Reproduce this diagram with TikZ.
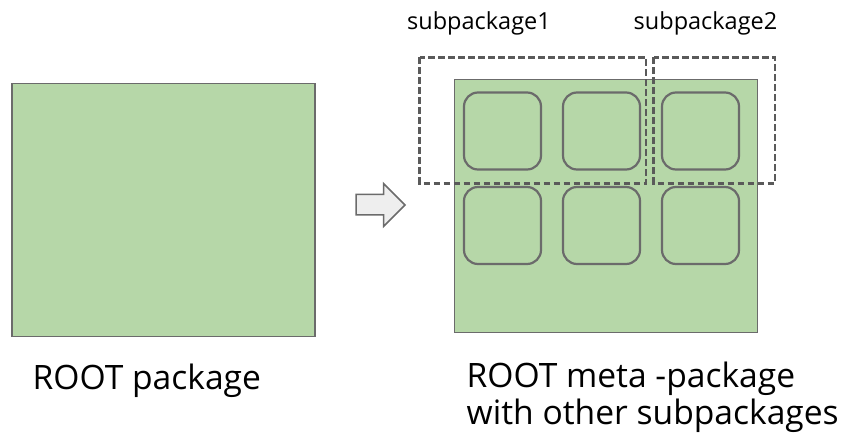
\documentclass[tikz,border=0pt]{standalone}
\usepackage{fontspec}
\setmainfont{Open Sans}
\definecolor{pkggreen}{HTML}{B6D7A8}
\definecolor{edgegray}{HTML}{6B6B6B}
\definecolor{dashgray}{HTML}{5A5A5A}
\definecolor{arrowfill}{HTML}{EEEEEE}
\begin{document}
\begin{tikzpicture}[x=1pt,y=-1pt,
  pkgbox/.style={draw=edgegray,fill=pkggreen,line width=1.8pt},
  subbox/.style={draw=edgegray,fill=pkggreen,line width=2.2pt,rounded corners=14pt},
  groupbox/.style={draw=dashgray,dashed,dash pattern=on 6.5pt off 3.5pt,line width=2.2pt},
  biglabel/.style={font=\fontsize{33.6}{37.5}\selectfont,anchor=base west,inner sep=0pt,align=left},
  smalllabel/.style={font=\fontsize{23.5}{26}\selectfont,anchor=base west,inner sep=0pt}]
\useasboundingbox (0,0) rectangle (841,435);
% left package
\draw[pkgbox] (12,83.5) rectangle (315,336.5);
% arrow
\draw[draw=edgegray,fill=arrowfill,line width=1.5pt,line join=miter]
  (356,194.5) -- (383.5,194.5) -- (383.5,183.5) -- (405,205) -- (383.5,226.5) -- (383.5,215) -- (356,215) -- cycle;
% right meta package
\draw[pkgbox] (454.5,79.5) rectangle (757.5,332.5);
\foreach \c/\x in {1/464,2/563,3/662}{
  \draw[subbox] (\x,92.5) rectangle ++(77,77);
  \draw[subbox] (\x,187) rectangle ++(77,77);
}
% subpackage groups
\draw[groupbox] (419.5,57.5) rectangle (646,183.5);
\draw[groupbox] (653.5,57.5) rectangle (775,183.5);
% labels
\node[smalllabel] (s1) at (407,30) {subpackage1};
\node[smalllabel] (s2) at (633.5,30) {subpackage2};
\node[biglabel] (l1) at (32.5,389.5) {ROOT package};
\node[biglabel] (l2) at (466.5,425) {ROOT meta -package\\with other subpackages};
\end{tikzpicture}
\end{document}
